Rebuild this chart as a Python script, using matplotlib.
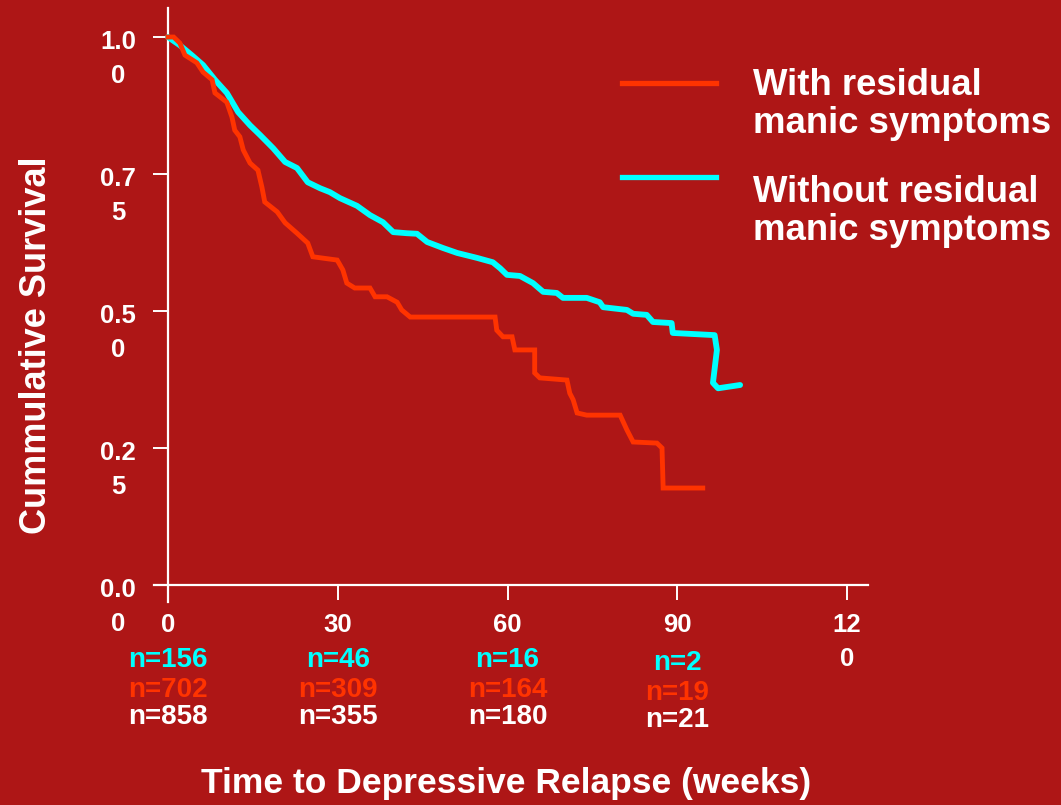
import matplotlib
matplotlib.use("Agg")
import matplotlib.pyplot as plt
from matplotlib.lines import Line2D
from matplotlib import transforms

plt.rcParams['font.family'] = ['Liberation Sans', 'DejaVu Sans']
plt.rcParams['font.weight'] = 'bold'

BG = '#AE1616'
ORANGE = '#FF3300'
CYAN = '#00FFFF'
WHITE = '#FFFFFF'

# ---- data ----
with_weeks = [0, 1.0, 2.1, 3.0, 5.1, 6.2, 7.8, 8.3, 10.4, 11.3, 11.8, 12.7, 13.3, 14.5,
              15.9, 16.6, 17.1, 19.3, 20.7, 22.8, 24.7, 25.6, 29.9, 30.9, 31.6, 33.0,
              35.7, 36.6, 38.7, 40.5, 41.3, 42.8, 57.8, 58.1, 59.2, 60.8, 61.3, 64.8,
              64.8, 65.7, 70.5, 71.0, 71.6, 72.3, 74.0, 79.9, 81.1, 82.2, 86.4, 87.3,
              87.5, 94.5]
with_surv = [1.0, 1.0, 0.989, 0.967, 0.953, 0.936, 0.922, 0.898, 0.881, 0.854, 0.830,
             0.818, 0.794, 0.770, 0.757, 0.726, 0.699, 0.681, 0.661, 0.642, 0.624, 0.599,
             0.593, 0.575, 0.551, 0.542, 0.542, 0.526, 0.526, 0.516, 0.502, 0.489, 0.489,
             0.465, 0.453, 0.453, 0.429, 0.429, 0.387, 0.378, 0.374, 0.350, 0.338, 0.314,
             0.310, 0.310, 0.283, 0.261, 0.259, 0.250, 0.177, 0.177]

without_weeks = [0, 2.1, 4.2, 6.2, 8.3, 10.4, 12.4, 14.5, 16.3, 18.6, 20.7, 22.8, 24.7,
                 26.9, 28.6, 30.4, 33.4, 35.7, 38.0, 39.8, 42.2, 44.0, 45.8, 48.6, 51.1,
                 54.6, 57.4, 58.7, 59.9, 62.2, 64.5, 66.3, 68.7, 69.8, 74.0, 76.3, 76.9,
                 81.1, 82.2, 84.6, 85.7, 89.0, 89.2, 96.6, 97.0, 96.3, 97.2, 101.1]
without_surv = [1.0, 0.985, 0.967, 0.949, 0.922, 0.898, 0.863, 0.839, 0.821, 0.797,
                0.772, 0.761, 0.735, 0.724, 0.717, 0.706, 0.692, 0.675, 0.662, 0.644,
                0.642, 0.641, 0.626, 0.615, 0.606, 0.597, 0.589, 0.578, 0.566, 0.564,
                0.551, 0.535, 0.533, 0.524, 0.524, 0.516, 0.507, 0.502, 0.495, 0.493,
                0.480, 0.478, 0.460, 0.456, 0.429, 0.369, 0.359, 0.365]

x_ticks = [0, 30, 60, 90, 120]
x_tick_labels = ['0', '30', '60', '90', '12\n0']
y_ticks = [0.0, 0.25, 0.5, 0.75, 1.0]
y_tick_labels = ['0.0\n0', '0.2\n5', '0.5\n0', '0.7\n5', '1.0\n0']

n_without = ['n=156', 'n=46', 'n=16', 'n=2']
n_with = ['n=702', 'n=309', 'n=164', 'n=19']
n_total = ['n=858', 'n=355', 'n=180', 'n=21']

legend_labels = ['With residual\nmanic symptoms', 'Without residual\nmanic symptoms']

# ---- figure ----
W, H = 1061, 805
fig = plt.figure(figsize=(W / 100, H / 100), dpi=100, facecolor=BG)
ax = fig.add_axes([154 / W, 1 - 602 / H, (868 - 154) / W, (602 - 8) / H])
ax.set_facecolor(BG)
ax.set_xlim(-2.47, 123.7)
ax.set_ylim(-0.031, 1.053)

ax.plot(without_weeks, without_surv, color=CYAN, lw=4.2, solid_joinstyle='round',
        solid_capstyle='round', zorder=3)
ax.plot(with_weeks, with_surv, color=ORANGE, lw=3.5, solid_joinstyle='miter', zorder=4)

for s in ['top', 'right']:
    ax.spines[s].set_visible(False)
for s in ['left', 'bottom']:
    ax.spines[s].set_position(('data', 0))
    ax.spines[s].set_color(WHITE)
    ax.spines[s].set_linewidth(1.6)

ax.set_xticks(x_ticks, x_tick_labels)
ax.tick_params(axis='x', direction='out', length=10.8, width=1.4, color=WHITE,
               labelcolor=WHITE, labelsize=18.5, pad=9)
for lab in ax.get_xticklabels():
    lab.set_fontweight('bold')
    lab.set_linespacing(1.55)

ax.set_yticks(y_ticks, [''] * len(y_ticks))
ax.tick_params(axis='y', direction='out', length=10.5, width=1.4, color=WHITE)

ytrans = transforms.blended_transform_factory(fig.transFigure, ax.transData) + \
    transforms.ScaledTranslation(0, 0.07, fig.dpi_scale_trans)
for yv, lab in zip(y_ticks, y_tick_labels):
    ax.text(118 / W, yv, lab, transform=ytrans, ha='center', va='top',
            multialignment='center', fontsize=18.5, fontweight='bold', color=WHITE,
            linespacing=1.5)

# risk table
ntrans = transforms.blended_transform_factory(ax.transData, fig.transFigure)
for labels, color, ypix in [(n_without, CYAN, 657), (n_with, ORANGE, 687),
                            (n_total, WHITE, 714)]:
    for i, (xv, lab) in enumerate(zip(x_ticks, labels)):
        dy = 3 if i == 3 else 0
        ax.text(xv, 1 - (ypix + dy) / H, lab, transform=ntrans, ha='center',
                va='center_baseline', fontsize=20, fontweight='bold', color=color,
                clip_on=False)

# axis titles
fig.text(37 / W, 1 - 345 / H, 'Cummulative Survival', rotation=90, ha='center',
         va='center', fontsize=26, fontweight='bold', color=WHITE)
fig.text(506 / W, 1 - 783 / H, 'Time to Depressive Relapse (weeks)', ha='center',
         va='center', fontsize=25.5, fontweight='bold', color=WHITE)

# legend
for (ly, ty), color, lab in zip([(83, 68), (177, 175)], [ORANGE, CYAN], legend_labels):
    fig.add_artist(Line2D([622 / W, 716 / W], [1 - ly / H, 1 - ly / H], color=color,
                          lw=3.8, transform=fig.transFigure))
    fig.text(753 / W, 1 - ty / H, lab, ha='left', va='top', fontsize=26.3,
             fontweight='bold', color=WHITE, linespacing=1.12)

fig.savefig('out.png', dpi=100, facecolor=BG)
